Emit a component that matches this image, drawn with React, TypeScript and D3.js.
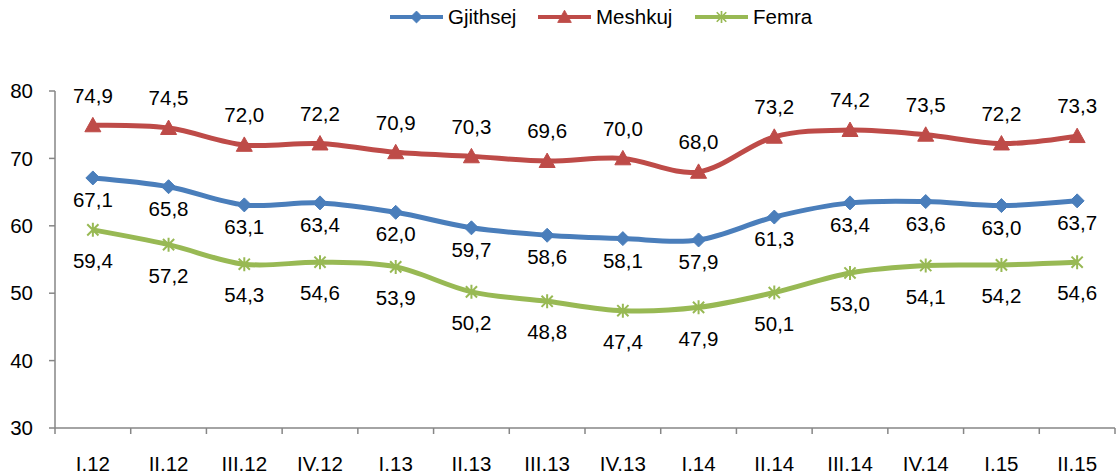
import React from 'react';
import * as d3 from 'd3';

const categories = ['I.12', 'II.12', 'III.12', 'IV.12', 'I.13', 'II.13', 'III.13', 'IV.13', 'I.14', 'II.14', 'III.14', 'IV.14', 'I.15', 'II.15'];
const gjithsej = [67.1, 65.8, 63.1, 63.4, 62.0, 59.7, 58.6, 58.1, 57.9, 61.3, 63.4, 63.6, 63.0, 63.7];
const meshkuj = [74.9, 74.5, 72.0, 72.2, 70.9, 70.3, 69.6, 70.0, 68.0, 73.2, 74.2, 73.5, 72.2, 73.3];
const femra = [59.4, 57.2, 54.3, 54.6, 53.9, 50.2, 48.8, 47.4, 47.9, 50.1, 53.0, 54.1, 54.2, 54.6];
const yTicks = [30, 40, 50, 60, 70, 80];

const W = 1117;
const H = 476;
const FONT = '"Liberation Sans", Arial, sans-serif';

// marker shapes
const diamond = (r: number) => `M0,${-r}L${r},0L0,${r}L${-r},0Z`;
const triangle = (r: number) => `M0,${-r}L${r},${r * 0.8}L${-r},${r * 0.8}Z`;
const star = (r: number) => `M0,${-r}V${r}M${-r * 0.8},${-r * 0.8}L${r * 0.8},${r * 0.8}M${-r * 0.8},${r * 0.8}L${r * 0.8},${-r * 0.8}`;

const series = [
  { name: 'Gjithsej', values: gjithsej, color: '#4A7EBB', marker: diamond(7), fill: true, dy: 22 },
  { name: 'Meshkuj', values: meshkuj, color: '#BE4B48', marker: triangle(8), fill: true, dy: -30 },
  { name: 'Femra', values: femra, color: '#98B954', marker: star(7), fill: false, dy: 31 },
];

const fmt = (v: number) => v.toFixed(1).replace('.', ',');

export default function App() {
  const left = 55;
  const right = 1115;
  const top = 91;
  const bottom = 428;

  const x = d3.scaleBand<string>().domain(categories).range([left, right]);
  const y = d3.scaleLinear().domain([30, 80]).range([bottom, top]);
  const cx = (c: string) => (x(c) as number) + x.bandwidth() / 2;

  const line = d3
    .line<number>()
    .x((_, i) => cx(categories[i]))
    .y(d => y(d))
    .curve(d3.curveCardinal.tension(0));

  const legendItems = [
    { s: series[0], x: 390 },
    { s: series[1], x: 538 },
    { s: series[2], x: 695 },
  ];

  return (
    <svg width={W} height={H} style={{ position: 'absolute', left: 0, top: 0, background: '#fff' }} fontFamily={FONT}>
      {/* legend */}
      {legendItems.map(({ s, x: lx }) => (
        <g key={s.name} transform={`translate(${lx},17)`}>
          <line x1={0} x2={53} stroke={s.color} strokeWidth={4} />
          <path d={s.marker} transform="translate(26.5,0) scale(0.85)" fill={s.fill ? s.color : 'none'} stroke={s.color} strokeWidth={s.fill ? 1 : 2} />
          <text x={58} y={0} dy="0.35em" fontSize={20.5} fill="#000">{s.name}</text>
        </g>
      ))}

      {/* y axis */}
      <line x1={left} x2={left} y1={top} y2={bottom} stroke="#868686" strokeWidth={1.5} />
      {yTicks.map(t => (
        <g key={t}>
          <line x1={left - 6} x2={left} y1={y(t)} y2={y(t)} stroke="#868686" strokeWidth={1.5} />
          <text x={33} y={y(t)} dy="0.35em" textAnchor="end" fontSize={20.5} fill="#000">{t}</text>
        </g>
      ))}

      {/* x axis */}
      <line x1={left} x2={right} y1={bottom} y2={bottom} stroke="#868686" strokeWidth={1.5} />
      {categories.map(c => (
        <line key={'t' + c} x1={x(c) as number} x2={x(c) as number} y1={bottom} y2={bottom + 6} stroke="#868686" strokeWidth={1.5} />
      ))}
      <line x1={right} x2={right} y1={bottom} y2={bottom + 6} stroke="#868686" strokeWidth={1.5} />
      {categories.map(c => (
        <text key={c} x={cx(c)} y={471} textAnchor="middle" fontSize={20.5} fill="#000">{c}</text>
      ))}

      {/* series */}
      {series.map(s => (
        <g key={s.name}>
          <path d={line(s.values) as string} fill="none" stroke={s.color} strokeWidth={5} />
          {s.values.map((v, i) => (
            <path
              key={i}
              d={s.marker}
              transform={`translate(${cx(categories[i])},${y(v)})`}
              fill={s.fill ? s.color : 'none'}
              stroke={s.color}
              strokeWidth={s.fill ? 1 : 2}
            />
          ))}
          {s.values.map((v, i) => (
            <text key={'l' + i} x={cx(categories[i])} y={y(v) + s.dy} dy="0.35em" textAnchor="middle" fontSize={20.5} fill="#000">
              {fmt(v)}
            </text>
          ))}
        </g>
      ))}
    </svg>
  );
}
